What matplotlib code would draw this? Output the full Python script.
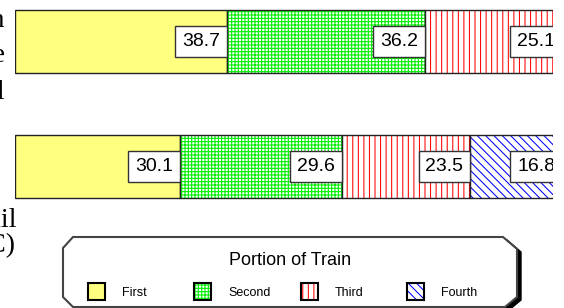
import numpy as np
import matplotlib
matplotlib.use('Agg')
import matplotlib.pyplot as plt
from matplotlib.patches import Polygon, Rectangle

plt.rcParams['font.family'] = ['Liberation Sans', 'DejaVu Sans']
plt.rcParams['hatch.linewidth'] = 0.75

# datos
categorias = ["Main Train\nCommuter Line\nIntercity Rail", "Commuter Rail\n(AC)"]
series = ["First", "Second", "Third", "Fourth"]
first = [38.7, 30.1]
second = [36.2, 29.6]
third = [25.1, 23.5]
fourth = [0.0, 16.8]
titulo_leyenda = "Portion of Train"

# estilos de cada serie: (relleno, color de trama, trama)
estilos = [
    ('#FFFF80', None, None),
    ('white', '#00EE00', '+++++'),
    ('white', '#FF0000', '|||'),
    ('white', '#0000FF', '\\\\\\\\'),
]

fig = plt.figure(figsize=(5.64, 3.08), dpi=100)
W, H = 564, 308

# ejes principales
ax = fig.add_axes([15 / W, 1 - 208 / H, 538 / W, 208 / H])
ax.set_xlim(0, 98.35)
ax.set_ylim(1.332, -0.332)
ax.axis('off')

filas = np.arange(len(categorias))
valores = [first, second, third, fourth]
izq = np.zeros(len(categorias))
alto = 0.504
pad = 0.35
fs = 14
for vals, (fc, hc, hatch) in zip(valores, estilos):
    vals = np.array(vals)
    if hatch:
        ax.barh(filas, vals, left=izq, height=alto, color=fc, edgecolor=hc,
                hatch=hatch, linewidth=0)
    else:
        ax.barh(filas, vals, left=izq, height=alto, color=fc, linewidth=0)
    ax.barh(filas, vals, left=izq, height=alto, fill=False,
            edgecolor='#222222', linewidth=1.0)
    for f, v, l in zip(filas, vals, izq):
        if v <= 0:
            continue
        t = ax.annotate(f"{v:.1f}", xy=(l + v, f), xytext=(-pad * fs, 0),
                        textcoords='offset points', ha='right', va='center',
                        fontsize=fs, color='black', annotation_clip=False,
                        bbox=dict(boxstyle=f'square,pad={pad}', fc='white',
                                  ec='#333333', lw=1.0))
        t.set_clip_on(True)
        t.set_clip_box(ax.bbox)
    izq = izq + vals

# capa superior para etiquetas y leyenda (en pixeles)
ov = fig.add_axes([0, 0, 1, 1])
ov.set_xlim(0, W)
ov.set_ylim(H, 0)
ov.axis('off')
ov.patch.set_alpha(0)

# etiquetas de categoria (recortadas por el borde, como en el original)
lineas1 = categorias[0].split('\n')
for txt, yb in zip(lineas1, [27, 62, 99]):
    ov.text(5, yb, txt, ha='right', va='baseline', fontsize=20,
            family='Liberation Serif')
lineas2 = categorias[1].split('\n')
for txt, yb in zip(lineas2, [227, 252]):
    ov.text(16, yb, txt, ha='right', va='baseline', fontsize=20,
            family='Liberation Serif')

# caja de la leyenda con esquinas cortadas y sombra
caja = [(73, 237), (503, 237), (517, 249), (517, 297), (505, 307),
        (73, 307), (63, 297), (63, 248)]
sombra = [(x + 4, y + 3) for x, y in caja]
ov.add_patch(Polygon(sombra, closed=True, fc='black', ec='black', lw=1))
ov.add_patch(Polygon(caja, closed=True, fc='white', ec='#444444', lw=1.5))
ov.text(290, 265, titulo_leyenda, ha='center', va='baseline', fontsize=13)

xs = [88, 194, 301, 407]
for nombre, (fc, hc, hatch), x0 in zip(series, estilos, xs):
    if hatch:
        ov.add_patch(Rectangle((x0, 283), 17, 17, fc=fc, ec=hc, hatch=hatch, lw=0))
    else:
        ov.add_patch(Rectangle((x0, 283), 17, 17, fc=fc, lw=0))
    ov.add_patch(Rectangle((x0, 283), 17, 17, fill=False, ec='black', lw=1.5))
    ov.text(x0 + 34, 296, nombre, ha='left', va='baseline', fontsize=9)

fig.savefig('out.png', dpi=100)
